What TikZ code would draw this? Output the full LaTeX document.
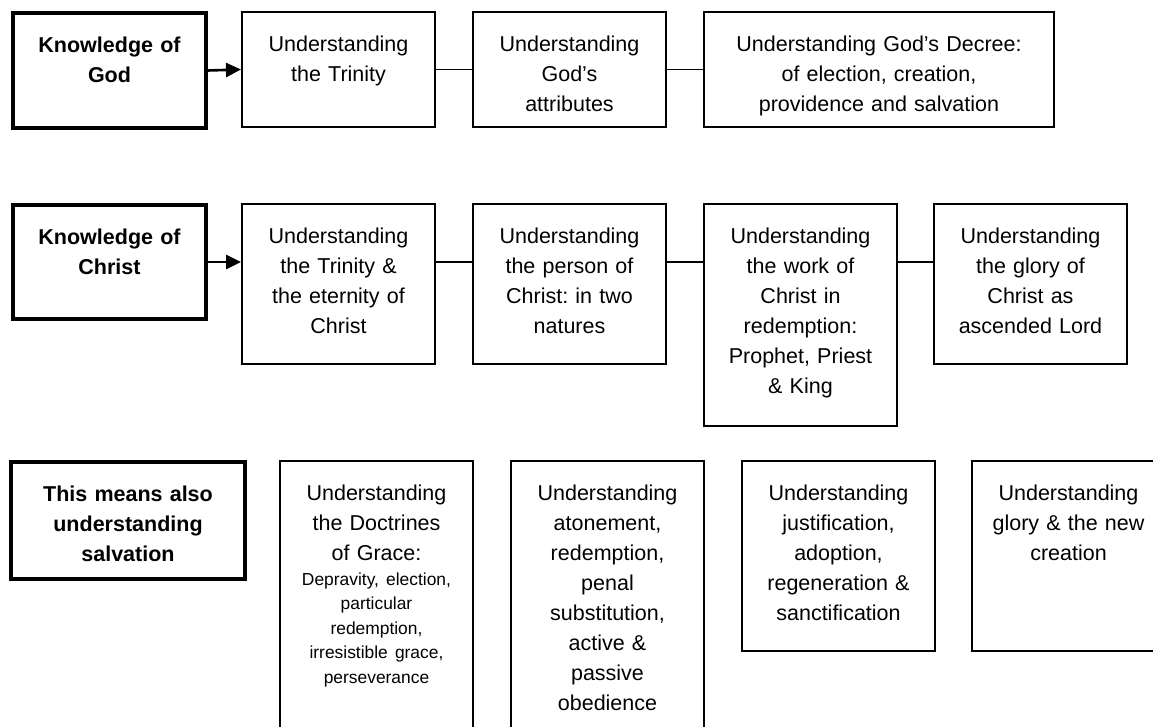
\documentclass[tikz,border=0pt]{standalone}
\usepackage{fontspec}
\setmainfont{Liberation Sans}
\usetikzlibrary{arrows.meta}
\newcommand{\bodysize}{\fontsize{10.75pt}{15pt}\selectfont}
\newcommand{\smallsize}{\fontsize{8.7pt}{12.25pt}\selectfont}
\frenchspacing
\begin{document}
\begin{tikzpicture}[x=0.5pt,y=-0.5pt,
    box/.style={draw, line width=1pt, anchor=north west, inner xsep=0pt, inner ysep=0pt,
      text width=#1, align=center, text height=20pt, font=\bodysize},
    box/.default=96.5pt,
    head/.style={box=#1, line width=2pt, font=\bodysize\bfseries},
    head/.default=96.5pt,
    link/.style={line width=0.8pt},
    feed/.style={line width=1.3pt, -{Triangle[length=7.5pt,width=7pt]}}]
  \useasboundingbox (0,0) rectangle (1153,727);
  %God
  \node[head, text depth=37.5pt] (kgod) at (11,11) {Knowledge of\\God};
  \node[box, text depth=37.5pt] (trin) at (241,11) {Understanding\\the Trinity};
  \node[box, text depth=37.5pt] (attr) at (472,11) {Understanding\\God’s\\attributes};
  \node[box=175pt, text depth=37.5pt] (decree) at (703,11)
    {Understanding God’s Decree:\\of election, creation,\\providence and salvation};
  \draw[feed] (kgod.east) -- (trin.west);
  \foreach \a/\b in {trin/attr, attr/decree}
    \draw[link] (\a.east) -- (\b.west);
  %Christ
  \node[head, text depth=37pt] (kchr) at (11,203) {Knowledge of\\Christ};
  \node[box, text depth=60pt] (trin2) at (241,203)
    {Understanding\\the Trinity \&\\the eternity of\\Christ};
  \node[box, text depth=60pt] (person) at (472,203)
    {Understanding\\the person of\\Christ: in two\\natures};
  \node[box, text depth=91pt] (work) at (703,203)
    {Understanding\\the work of\\Christ in\\redemption:\\Prophet, Priest\\\& King};
  \node[box, text depth=60pt] (glory) at (933,203)
    {Understanding\\the glory of\\Christ as\\ascended Lord};
  \draw[feed] (kchr.east) -- (kchr.east -| trin2.west);
  \foreach \a/\b in {trin2/person, person/work, work/glory}
    \draw[link] (\a.east |- kchr.east) -- (\b.west |- kchr.east);
  %salvation
  \node[head=117pt, text depth=38.5pt] (salv) at (9,460)
    {This means also\\understanding\\salvation};
  \node[box, text depth=130pt] (grace) at (279,460)
    {Understanding\\the Doctrines\\of Grace:\par\smallsize Depravity, election,\\particular\\redemption,\\irresistible grace,\\perseverance\par};
  \node[box, text depth=130pt] (aton) at (510,460)
    {Understanding\\atonement,\\redemption,\\penal\\substitution,\\active \&\\passive\\obedience};
  \node[box, text depth=75pt] (just) at (741,460)
    {Understanding\\justification,\\adoption,\\regeneration \&\\sanctification};
  \node[box, text depth=75pt] (newcr) at (971,460)
    {Understanding\\glory \& the new\\creation};
\end{tikzpicture}
\end{document}
